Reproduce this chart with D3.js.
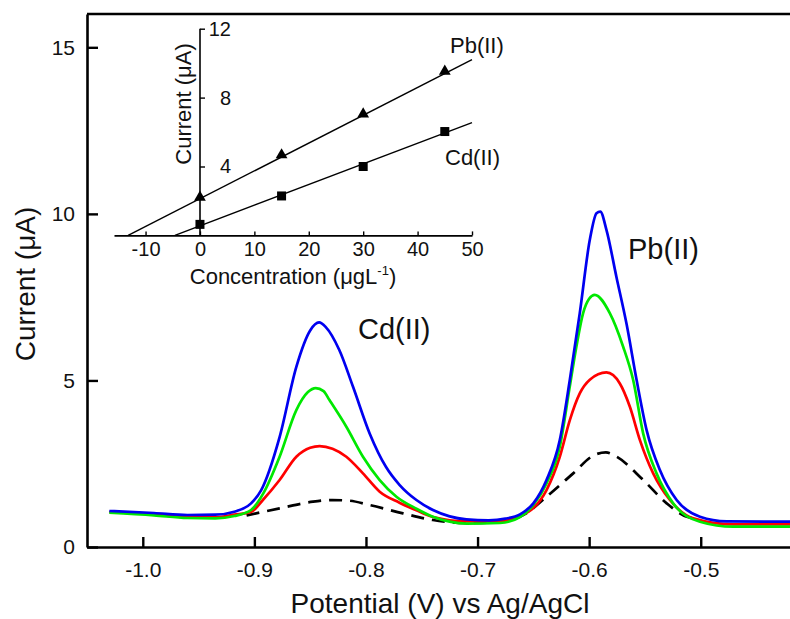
<!DOCTYPE html>
<head>
  <meta charset="utf-8" />
  <script src="https://cdn.jsdelivr.net/npm/d3@7"></script>
  <style>
    body { margin: 0; background: #fff; }
    svg text { font-family: "Liberation Sans", Arial, sans-serif; fill: #111; }
  </style>
</head>
<body>
  <svg class="chart" width="790" height="619"></svg>
  <script>
    // stripping voltammograms: [potential V, current uA]
    const blank = [[-0.907,0.95],[-0.8774,1.16],[-0.8475,1.36],[-0.83,1.41],[-0.815,1.39],[-0.7967,1.26],[-0.7668,1.01],[-0.74,0.81],[-0.71,0.72],[-0.68,0.75],[-0.656,1.02],[-0.6382,1.51],[-0.6143,2.21],[-0.596,2.75],[-0.585,2.84],[-0.5754,2.71],[-0.5515,2.01],[-0.5305,1.31],[-0.5125,0.91],[-0.508,0.87]];
    const red = [[-1.03,1.05],[-0.99,0.98],[-0.96,0.9],[-0.935,0.9],[-0.918,0.97],[-0.903,1.05],[-0.8924,1.41],[-0.8774,2.01],[-0.8624,2.71],[-0.85,2.98],[-0.8415,3.03],[-0.83,2.95],[-0.8176,2.71],[-0.8027,2.21],[-0.7877,1.66],[-0.77,1.33],[-0.7548,1.1],[-0.74,0.9],[-0.71,0.77],[-0.68,0.77],[-0.662,0.93],[-0.6502,1.16],[-0.6382,1.71],[-0.6263,2.71],[-0.6173,3.81],[-0.6084,4.61],[-0.5994,5.02],[-0.5845,5.24],[-0.5725,4.91],[-0.5635,4.21],[-0.5545,3.21],[-0.5426,2.21],[-0.5276,1.41],[-0.5067,0.86],[-0.4708,0.68],[-0.42,0.68]];
    const green = [[-1.03,1.03],[-0.99,0.95],[-0.96,0.87],[-0.935,0.86],[-0.918,0.93],[-0.903,1.11],[-0.892,1.61],[-0.8774,2.71],[-0.8624,4.11],[-0.852,4.65],[-0.845,4.77],[-0.838,4.68],[-0.8327,4.41],[-0.8176,3.61],[-0.8027,2.71],[-0.7877,2.01],[-0.7727,1.51],[-0.7548,1.15],[-0.74,0.91],[-0.725,0.76],[-0.71,0.7],[-0.68,0.72],[-0.662,0.9],[-0.65,1.26],[-0.6382,1.91],[-0.6263,3.01],[-0.6174,4.81],[-0.6114,6.02],[-0.6054,7.02],[-0.6,7.45],[-0.595,7.57],[-0.5815,7.02],[-0.5696,6.02],[-0.5606,5.02],[-0.5516,3.41],[-0.5396,2.21],[-0.5247,1.31],[-0.5007,0.76],[-0.4708,0.61],[-0.42,0.61]];
    const blue = [[-1.03,1.08],[-0.99,1.02],[-0.96,0.96],[-0.935,0.97],[-0.918,1.06],[-0.903,1.31],[-0.894,1.7],[-0.8774,3.3],[-0.8624,5.41],[-0.85,6.5],[-0.842,6.74],[-0.836,6.6],[-0.824,5.92],[-0.8116,4.81],[-0.7967,3.41],[-0.782,2.4],[-0.7698,1.86],[-0.7548,1.41],[-0.74,1.11],[-0.725,0.92],[-0.71,0.83],[-0.69,0.8],[-0.675,0.85],[-0.662,0.98],[-0.65,1.31],[-0.6382,2.01],[-0.6263,3.21],[-0.6173,5.02],[-0.6084,7.02],[-0.5994,9.22],[-0.5934,10.02],[-0.59,10.07],[-0.5845,9.52],[-0.5755,8.1],[-0.5665,6.7],[-0.5575,5.02],[-0.5485,3.51],[-0.5366,2.31],[-0.5216,1.41],[-0.5007,0.91],[-0.4767,0.77],[-0.42,0.76]];

    const xTicks = [-1.0, -0.9, -0.8, -0.7, -0.6, -0.5];
    const yTicks = [0, 5, 10, 15];

    // inset calibration
    const concentrations = [0, 15, 30, 45];
    const pbCurrent = [2.21, 4.67, 7.04, 9.52];
    const cdCurrent = [0.64, 2.29, 4.0, 6.03];
    const pbFit = [[-13.2, 0], [50, 10.2]];
    const cdFit = [[-4.6, 0], [50, 6.55]];
    const insetXTicks = [-10, 0, 10, 20, 30, 40, 50];
    const insetYTicks = [4, 8, 12];

    const svg = d3.select(".chart");
    const x = d3.scaleLinear().domain([-1.05, -0.42]).range([87, 790]);
    const y = d3.scaleLinear().domain([0, 16]).range([547, 14]);

    const line = d3.line().x((d) => x(d[0])).y((d) => y(d[1])).curve(d3.curveMonotoneX);

    // frame top line
    svg.append("line").attr("x1", 87).attr("x2", 792).attr("y1", 14).attr("y2", 14)
      .attr("stroke", "#000").attr("stroke-width", 2.6);

    const xAxis = svg.append("g").attr("transform", "translate(0,547)")
      .call(d3.axisBottom(x).tickValues(xTicks).tickSize(-10).tickPadding(15).tickSizeOuter(0).tickFormat((d) => d.toFixed(1)));
    const yAxis = svg.append("g").attr("transform", "translate(87,0)")
      .call(d3.axisLeft(y).tickValues(yTicks).tickSize(-11).tickPadding(12).tickSizeOuter(0));
    [xAxis, yAxis].forEach((g) => {
      g.select(".domain").attr("stroke", "#000").attr("stroke-width", 2.6);
      g.selectAll(".tick line").attr("stroke", "#000").attr("stroke-width", 2.4);
      g.selectAll(".tick text").attr("font-size", 21).attr("fill", "#111")
        .attr("font-family", "Liberation Sans, Arial, sans-serif");
    });

    svg.append("text").attr("x", 440).attr("y", 613).attr("text-anchor", "middle")
      .attr("font-size", 28).text("Potential (V) vs Ag/AgCl");
    svg.append("text").attr("transform", "translate(35,284) rotate(-90)").attr("text-anchor", "middle")
      .attr("font-size", 28).text("Current (μA)");

    const curves = [
      { data: blank, color: "#000", dash: "13,8" },
      { data: red, color: "#ff0000" },
      { data: green, color: "#00e800" },
      { data: blue, color: "#0000f0" }
    ];
    svg.append("g").selectAll("path").data(curves).enter().append("path")
      .attr("d", (d) => line(d.data))
      .attr("fill", "none")
      .attr("stroke", (d) => d.color)
      .attr("stroke-width", 2.7)
      .attr("stroke-dasharray", (d) => d.dash || null)
      .attr("stroke-linejoin", "round");

    svg.append("text").attr("x", 358).attr("y", 339).attr("font-size", 29).text("Cd(II)");
    svg.append("text").attr("x", 628).attr("y", 259).attr("font-size", 29).text("Pb(II)");

    // inset
    const ix = d3.scaleLinear().domain([-15.8, 50]).range([114, 472]);
    const iy = d3.scaleLinear().domain([0, 12]).range([235.4, 28.7]);
    const inset = svg.append("g");

    const ixAxis = inset.append("g").attr("transform", "translate(0,235.4)")
      .call(d3.axisBottom(ix).tickValues(insetXTicks).tickSize(-4).tickPadding(6).tickSizeOuter(0).tickFormat((d) => d));
    const iyAxis = inset.append("g").attr("transform", "translate(200,0)")
      .call(d3.axisLeft(iy).tickValues(insetYTicks).tickSize(-5).tickPadding(-31).tickSizeOuter(0));
    [ixAxis, iyAxis].forEach((g) => {
      g.select(".domain").attr("stroke", "#000").attr("stroke-width", 1.6);
      g.selectAll(".tick line").attr("stroke", "#000").attr("stroke-width", 1.4);
      g.selectAll(".tick text").attr("font-size", 20).attr("fill", "#111")
        .attr("font-family", "Liberation Sans, Arial, sans-serif");
    });
    iyAxis.select(".domain").attr("d", `M0,${iy(12)}V${iy(0)}`);

    const fitLine = d3.line().x((d) => ix(d[0])).y((d) => iy(d[1]));
    inset.append("path").attr("d", fitLine(pbFit)).attr("stroke", "#000").attr("stroke-width", 1.4).attr("fill", "none");
    inset.append("path").attr("d", fitLine(cdFit)).attr("stroke", "#000").attr("stroke-width", 1.4).attr("fill", "none");

    inset.append("g").selectAll("path").data(concentrations).enter().append("path")
      .attr("transform", (d, i) => `translate(${ix(d)},${iy(pbCurrent[i])})`)
      .attr("d", d3.symbol(d3.symbolTriangle, 60))
      .attr("fill", "#000");
    inset.append("g").selectAll("rect").data(concentrations).enter().append("rect")
      .attr("x", (d) => ix(d) - 4.5)
      .attr("y", (d, i) => iy(cdCurrent[i]) - 4.5)
      .attr("width", 9).attr("height", 9)
      .attr("fill", "#000");

    inset.append("text").attr("x", 450).attr("y", 53).attr("font-size", 22).text("Pb(II)");
    inset.append("text").attr("x", 445).attr("y", 165).attr("font-size", 22).text("Cd(II)");
    inset.append("text").attr("transform", "translate(191,104) rotate(-90)").attr("text-anchor", "middle")
      .attr("font-size", 22).text("Current (μA)");
    const ct = inset.append("text").attr("x", 293).attr("y", 284).attr("text-anchor", "middle").attr("font-size", 22);
    ct.append("tspan").text("Concentration (μgL");
    ct.append("tspan").attr("font-size", 13).attr("dy", -9).text("-1");
    ct.append("tspan").attr("dy", 9).text(")");
  </script>
</body>
